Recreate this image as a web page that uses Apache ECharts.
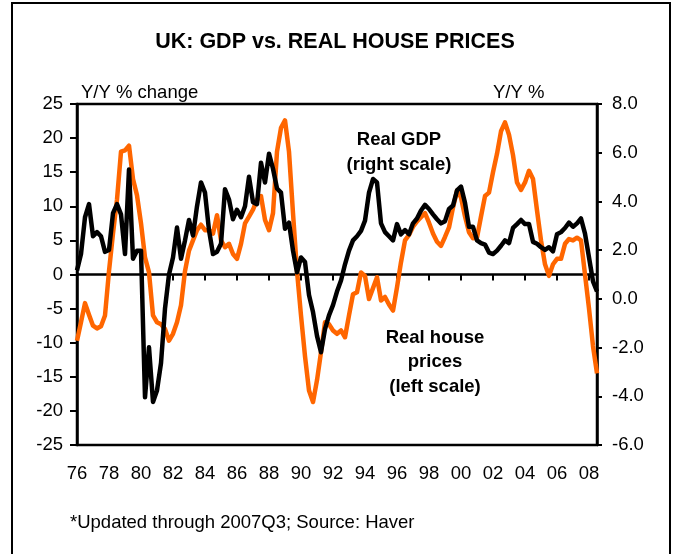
<!DOCTYPE html>
<html><head><meta charset="utf-8">
<script src="https://cdn.jsdelivr.net/npm/echarts@6/dist/echarts.min.js"></script>
<style>html,body{margin:0;padding:0;background:#fff}#c{width:676px;height:554px}</style>
</head><body><div id="c"></div>
<script>
// Quarterly categories 1976Q1 .. 2008Q3
const startYear = 1976;
const quarterCount = 131;
const quarters = [];
for (let k = 0; k < quarterCount; k++) quarters.push((startYear + Math.floor(k / 4)) + 'Q' + (k % 4 + 1));

// Real house prices, Y/Y % (left scale)
const housePrices = [
  -9.7, -7.0, -4.2, -5.9, -7.5, -7.9, -7.6, -6.0, 0.5, 6.0,
  11.0, 18.0, 18.2, 18.9, 14.0, 11.6, 7.5, 2.5, 0.3, -6.0,
  -7.0, -7.3, -8.0, -9.7, -8.7, -7.0, -4.5, 0.5, 3.5, 5.0,
  6.5, 7.3, 6.5, 6.5, 6.0, 8.7, 5.0, 4.0, 4.5, 3.0,
  2.3, 4.5, 7.5, 8.5, 9.5, 11.0, 11.5, 8.0, 6.5, 9.0,
  18.0, 21.5, 22.6, 18.0, 9.0, 0.5, -6.0, -12.0, -17.0, -18.7,
  -15.5, -11.4, -7.0, -7.3, -8.2, -8.7, -8.2, -9.2, -6.0, -2.9,
  -2.6, 0.3, -0.2, -3.6, -2.0, -0.4, -3.8, -3.3, -4.4, -5.3,
  -1.9, 1.8, 5.0, 5.8, 7.0, 7.8, 8.4, 9.0, 7.6, 6.0,
  4.8, 4.2, 5.5, 6.9, 9.8, 12.3, 11.3, 8.5, 6.2, 5.3,
  5.4, 8.5, 11.5, 12.0, 15.0, 17.7, 21.0, 22.3, 20.5, 17.5,
  13.5, 12.4, 13.5, 15.2, 14.0, 9.4, 5.0, 1.5, -0.2, 1.5,
  2.3, 2.3, 4.5, 5.2, 5.0, 5.4, 5.0, 0.0, -5.0, -10.5,
  -14.5
];

// Real GDP, Y/Y % (right scale)
const realGdp = [
  1.17, 1.84, 3.35, 3.89, 2.57, 2.74, 2.57, 1.93, 2.01, 3.52,
  3.89, 3.47, 1.84, 5.31, 1.65, 1.98, 1.98, -4.04, -1.99, -4.23,
  -3.76, -2.64, -0.40, 1.00, 1.70, 2.93, 1.65, 2.40, 3.24, 2.60,
  3.80, 4.78, 4.36, 2.82, 1.84, 1.93, 2.26, 4.50, 4.08, 3.27,
  3.66, 3.35, 3.80, 5.01, 3.97, 3.89, 5.59, 4.78, 5.96, 5.34,
  4.53, 4.36, 2.88, 3.13, 1.98, 1.09, 1.70, 1.51, 0.16, -0.54,
  -1.52, -2.19, -1.24, -0.68, -0.26, 0.30, 0.75, 1.42, 1.98, 2.40,
  2.57, 2.79, 3.21, 4.36, 4.92, 4.78, 3.10, 2.74, 2.57, 2.40,
  3.07, 2.65, 2.82, 2.65, 3.10, 3.30, 3.63, 3.86, 3.69, 3.47,
  3.27, 3.10, 3.19, 3.69, 3.83, 4.45, 4.61, 3.94, 2.96, 2.96,
  2.40, 2.29, 2.23, 1.90, 1.84, 1.98, 2.18, 2.40, 2.29, 2.91,
  3.07, 3.24, 3.07, 3.07, 2.34, 2.26, 2.12, 2.01, 2.12, 1.95,
  2.65, 2.74, 2.91, 3.13, 2.96, 3.10, 3.30, 2.68, 1.70, 0.72,
  0.30
];

const leftAxisRange = { min: -25, max: 25, interval: 5 };
const rightAxisRange = { min: -6, max: 8, interval: 2 };

const FONT = "'Liberation Sans', Arial, sans-serif";
const FS = 18.5;
const chart = echarts.init(document.getElementById('c'), null, { renderer: 'canvas' });

const catAxisBase = {
  type: 'category',
  data: quarters,
  boundaryGap: false,
  position: 'bottom'
};

chart.setOption({
  animation: false,
  backgroundColor: '#fff',
  grid: {
    left: 77, right: 79, top: 104, bottom: 109,
    show: true, borderColor: '#000', borderWidth: 2.5, backgroundColor: 'transparent'
  },
  xAxis: [
    Object.assign({}, catAxisBase, {
      axisLine: { show: false, onZero: false },
      axisTick: { show: false },
      splitLine: { show: false },
      axisLabel: {
        interval: 7, margin: 19, color: '#000', fontSize: FS, fontFamily: FONT,
        formatter: v => v.slice(2, 4)
      }
    }),
    Object.assign({}, catAxisBase, {
      axisLine: { show: true, onZero: true, onZeroAxisIndex: 0, lineStyle: { color: '#000', width: 2.5 } },
      axisTick: { show: true, interval: 7, length: 6, inside: false, lineStyle: { color: '#000', width: 2 } },
      axisLabel: { show: false },
      splitLine: { show: false }
    })
  ],
  yAxis: [
    {
      type: 'value', position: 'left',
      min: leftAxisRange.min, max: leftAxisRange.max, interval: leftAxisRange.interval,
      axisLine: { show: true, onZero: false, lineStyle: { color: '#000', width: 2.5 } },
      axisTick: { show: true, length: 7, lineStyle: { color: '#000', width: 2 } },
      splitLine: { show: false },
      axisLabel: { color: '#000', fontSize: FS, fontFamily: FONT, margin: 14 }
    },
    {
      type: 'value', position: 'right',
      min: rightAxisRange.min, max: rightAxisRange.max, interval: rightAxisRange.interval,
      axisLine: { show: true, onZero: false, lineStyle: { color: '#000', width: 2.5 } },
      axisTick: { show: true, length: 5, lineStyle: { color: '#000', width: 2 } },
      splitLine: { show: false },
      axisLabel: { color: '#000', fontSize: FS, fontFamily: FONT, margin: 15, formatter: v => v.toFixed(1) }
    }
  ],
  series: [
    {
      name: 'Real house prices', type: 'line', xAxisIndex: 0, yAxisIndex: 0,
      data: housePrices, showSymbol: false, symbol: 'none',
      lineStyle: { color: '#FF6600', width: 4.5, join: 'round' }, z: 3
    },
    {
      name: 'Real GDP', type: 'line', xAxisIndex: 0, yAxisIndex: 1,
      data: realGdp, showSymbol: false, symbol: 'none',
      lineStyle: { color: '#000', width: 4.5, join: 'round' }, z: 4
    }
  ],
  graphic: [
    { type: 'rect', shape: { x: 12, y: 3, width: 658, height: 600 }, style: { fill: 'none', stroke: '#000', lineWidth: 2 }, silent: true, z: 100 },
    { type: 'text', x: 335, y: 42, style: { text: 'UK: GDP vs. REAL HOUSE PRICES', fill: '#000', font: "bold 21.5px " + FONT, textAlign: 'center', textVerticalAlign: 'middle' } },
    { type: 'text', x: 81, y: 93, style: { text: 'Y/Y % change', fill: '#000', font: FS + "px " + FONT, textAlign: 'left', textVerticalAlign: 'middle' } },
    { type: 'text', x: 493, y: 93, style: { text: 'Y/Y %', fill: '#000', font: FS + "px " + FONT, textAlign: 'left', textVerticalAlign: 'middle' } },
    { type: 'text', x: 399, y: 152, style: { text: 'Real GDP\n(right scale)', fill: '#000', font: "bold " + FS + "px " + FONT, textAlign: 'center', textVerticalAlign: 'middle', lineHeight: 25 } },
    { type: 'text', x: 435, y: 362, style: { text: 'Real house\nprices\n(left scale)', fill: '#000', font: "bold " + FS + "px " + FONT, textAlign: 'center', textVerticalAlign: 'middle', lineHeight: 24.5 } },
    { type: 'text', x: 70, y: 523, style: { text: '*Updated through 2007Q3; Source: Haver', fill: '#000', font: FS + "px " + FONT, textAlign: 'left', textVerticalAlign: 'middle' } }
  ]
});
</script>
</body></html>
